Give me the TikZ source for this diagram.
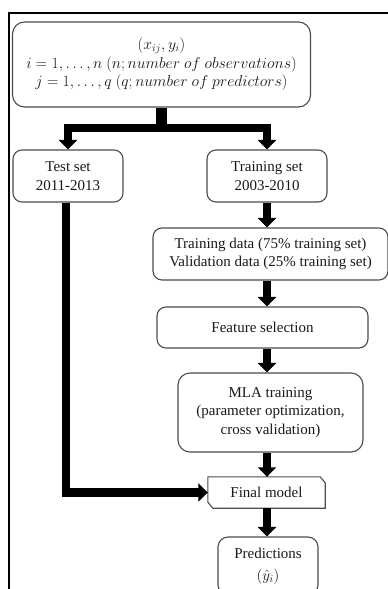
\RequirePackage{fix-cm}
\documentclass[tikz,border=0pt]{standalone}
\usepackage{fontspec}
\setmainfont{Liberation Serif}
\usetikzlibrary{arrows.meta}

\tikzset{
  box/.style={draw=black!70, line width=1.1pt, rounded corners=9pt, fill=white,
    align=center, inner sep=0pt, text=black!90,
    font=\fontsize{15}{18.5}\selectfont},
  plain/.style={inner sep=0pt, align=center, text=black!90,
    font=\fontsize{15}{18.5}\selectfont},
  outline/.style={draw=black!70, line width=1.1pt},
  flow/.style={line width=8.5pt, line join=miter,
    -{Triangle[width=18pt,length=9.5pt]}},
  bar/.style={line width=11pt},
  frame/.style={line width=2pt, draw=black}
}

\begin{document}
\begin{tikzpicture}[x=1pt,y=-1pt]
  \useasboundingbox (0,0) rectangle (388,589);
  \clip (0,0) rectangle (388,589);

  % outer frame
  \draw[frame] (9,600) -- (9,13) -- (400,13);

  % data set
  \node[box, rounded corners=12pt, minimum width=298pt, minimum height=85pt,
        font=\fontsize{17.28}{20.5}\selectfont]
    (data) at (161.5,64.5)
    {\scalebox{0.91}{\begin{tabular}{@{}c@{}}
       $(x_{ij}, y_i)$\\
       $i=1,\dots,n\ (n; number\ of\ observations)$\\
       $j=1,\dots,q\ (q; number\ of\ predictors)$
     \end{tabular}}};

  % split into test and training periods
  \node[box, minimum width=110pt, minimum height=52pt] (test) at (68,176)
    {Test set\\2011-2013};
  \node[box, minimum width=120pt, minimum height=52pt] (train) at (267,176)
    {Training set\\2003-2010};

  % training pipeline
  \node[box, minimum width=235pt, minimum height=52pt] (tdata) at (270.5,254)
    {Training data (75\% training set)\\Validation data (25\% training set)};
  \node[box, minimum width=211pt, minimum height=41pt] (feat) at (262.5,327.5)
    {Feature selection};
  \node[box, rounded corners=12pt, minimum width=185pt, minimum height=79pt]
    (mla) at (270.5,412.5)
    {MLA training\\(parameter optimization,\\cross validation)};

  % final model with two snipped corners
  \node[plain, minimum width=117pt, minimum height=31pt] (final) at (266.5,492.5)
    {Final model};
  \draw[outline] (final.north west) -- ([xshift=-5pt]final.north east)
    -- ([yshift=-6pt]final.north east) -- (final.south east)
    -- ([xshift=5pt]final.south west) -- ([yshift=6pt]final.south west) -- cycle;

  \node[box, rounded corners=10pt, minimum width=100pt, minimum height=58pt]
    (pred) at (268,566)
    {Predictions\\[4pt]$(\hat{y}_i)$};

  % connectors
  \coordinate (fork) at (161.5,128);
  \draw[bar] (data.south) -- (fork |- 0,132);
  \draw[flow] (fork) -| (test.north);
  \draw[flow] (fork) -| (train.north);
  \draw[flow] (train.south) -- (train.south |- tdata.north);
  \draw[flow] (train.south |- tdata.south) -- (train.south |- feat.north);
  \draw[flow] (train.south |- feat.south) -- (train.south |- mla.north);
  \draw[flow] (train.south |- mla.south) -- (train.south |- final.north);
  \draw[flow] (train.south |- final.south) -- (train.south |- pred.north);
  \draw[flow] ([xshift=-2pt]test.south) |- (final.west);
\end{tikzpicture}
\end{document}
